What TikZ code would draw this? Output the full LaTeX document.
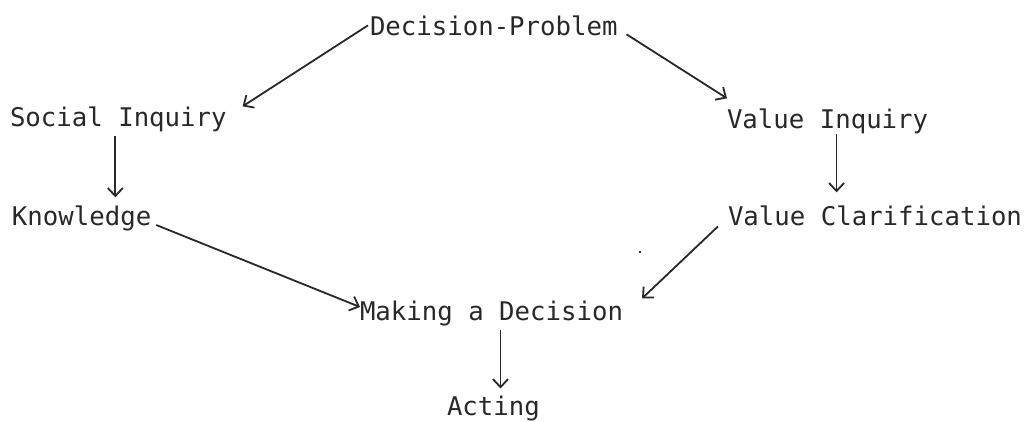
\documentclass[tikz,border=0pt]{standalone}
\usepackage{fontspec}
\setmonofont{DejaVu Sans Mono}
\usetikzlibrary{arrows.meta}
\definecolor{ink}{RGB}{40,40,40}
\tikzset{
  lbl/.style={inner sep=0pt, outer sep=0pt, anchor=base west, text=ink,
    font=\ttfamily\fontsize{25.7}{30}\selectfont},
  conn/.style={draw=ink, line width=1.8pt,
    -{Straight Barb[length=8pt,width=15pt,line width=1.8pt]}},
}
\begin{document}
\begin{tikzpicture}[x=1pt,y=-1pt]
\useasboundingbox (0,0) rectangle (1036,421);
\fill[white] (0,0) rectangle (1036,421);
\node[lbl] (dp) at (370,35) {Decision-Problem};
\node[lbl] (si) at (10,126) {Social Inquiry};
\node[lbl] (vi) at (727,128) {Value Inquiry};
\node[lbl] (kn) at (12,225) {Knowledge};
\node[lbl] (vc) at (728,225) {Value Clarification};
\node[lbl] (md) at (360,320) {Making a Decision};
\node[lbl] (ac) at (447,415) {Acting};
\draw[conn] ([xshift=-2pt]dp.west) -- ([xshift=16pt]si.north east);
\draw[conn] ([xshift=9pt,yshift=-9pt]dp.east) -- ([yshift=10pt]vi.north west);
\draw[conn] ([xshift=-3pt,yshift=-5pt]si.south) -- ([xshift=-3pt,yshift=8pt]si.south |- kn.north);
\draw[conn] ([xshift=9pt,yshift=-1pt]vi.south) -- ([xshift=9pt,yshift=13pt]vi.south |- vc.north);
\draw[conn] ([xshift=5pt]kn.base east) -- ([yshift=6pt]md.west);
\draw[conn] ([xshift=-10pt,yshift=-1pt]vc.south west) -- ([xshift=19pt,yshift=2pt]md.north east);
\draw[conn] ([xshift=9pt,yshift=-4pt]md.south) -- ([xshift=9pt,yshift=7pt]md.south |- ac.north);
\fill[ink] (640,252) circle (1.3);
\end{tikzpicture}
\end{document}
